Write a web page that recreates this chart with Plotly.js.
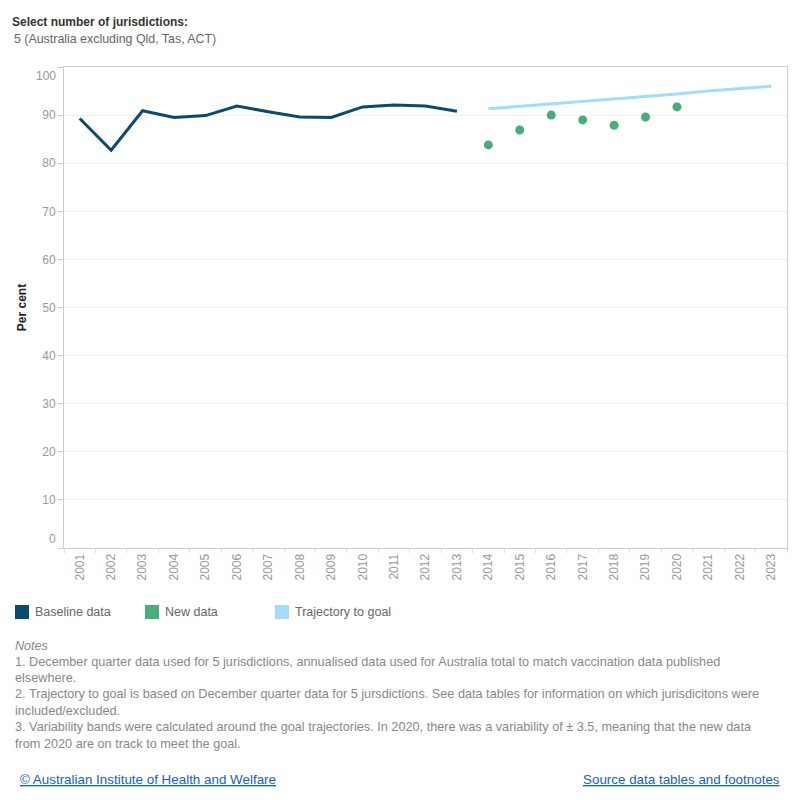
<!DOCTYPE html>
<html>
<head>
<meta charset="utf-8">
<script src="https://cdn.plot.ly/plotly-3.0.1.min.js"></script>
<style>
  html, body { margin: 0; padding: 0; background: #fff; }
  #chart { width: 800px; height: 800px; }
</style>
</head>
<body>
<div id="chart"></div>
<script>
// Immunisation coverage, per cent, 5 jurisdictions
const years = ['2001','2002','2003','2004','2005','2006','2007','2008','2009','2010','2011','2012',
               '2013','2014','2015','2016','2017','2018','2019','2020','2021','2022','2023'];

const baselineYears = ['2001','2002','2003','2004','2005','2006','2007','2008','2009','2010','2011','2012','2013'];
const baselineValues = [89.3, 82.7, 90.9, 89.5, 89.9, 91.9, 90.7, 89.6, 89.5, 91.7, 92.1, 91.9, 90.8];

const newYears = ['2014','2015','2016','2017','2018','2019','2020'];
const newValues = [83.8, 86.9, 90.0, 89.0, 87.9, 89.6, 91.7];

const trajectoryYears = ['2014','2015','2016','2017','2018','2019','2020','2021','2022','2023'];
const trajectoryValues = [91.3, 91.8, 92.4, 92.9, 93.4, 93.9, 94.4, 95.0, 95.5, 96.0];

const yTicks = [0, 10, 20, 30, 40, 50, 60, 70, 80, 90, 100];

const seriesNames = ['Baseline data', 'New data', 'Trajectory to goal'];
const seriesColors = ['#0b4a6c', '#4aab7b', '#a2dcf8'];

const headerTitle = 'Select number of jurisdictions:';
const headerValue = '5 (Australia excluding Qld, Tas, ACT)';
const notesTitle = 'Notes';
const notesLines = [
  '1. December quarter data used for 5 jurisdictions, annualised data used for Australia total to match vaccination data published',
  'elsewhere.',
  '2. Trajectory to goal is based on December quarter data for 5 jursdictions. See data tables for information on which jurisdicitons were',
  'included/excluded.',
  '3. Variability bands were calculated around the goal trajectories. In 2020, there was a variability of \u00b1 3.5, meaning that the new data',
  'from 2020 are on track to meet the goal.'
];
const footerLeft = '\u00a9 Australian Institute of Health and Welfare';
const footerRight = 'Source data tables and footnotes';

// Plot area geometry in page pixels
const W = 800, H = 800;
const M = { l: 64, r: 13, t: 67, b: 252 };
const PW = W - M.l - M.r, PH = H - M.t - M.b;
const px = x => (x - M.l) / PW;
const py = y => (H - M.b - y) / PH;

const FONT = '"Liberation Sans", Arial, sans-serif';

const traces = [
  {
    x: baselineYears, y: baselineValues, type: 'scatter', mode: 'lines',
    name: seriesNames[0], line: { color: seriesColors[0], width: 3 },
    hoverinfo: 'x+y'
  },
  {
    x: trajectoryYears, y: trajectoryValues, type: 'scatter', mode: 'lines',
    name: seriesNames[2], line: { color: seriesColors[2], width: 3 },
    hoverinfo: 'x+y'
  },
  {
    x: newYears, y: newValues, type: 'scatter', mode: 'markers',
    name: seriesNames[1], marker: { color: seriesColors[1], size: 9 },
    hoverinfo: 'x+y'
  }
];

const annotations = [];
const shapes = [];

function label(text, x, y, font, anchor) {
  annotations.push({
    text: text, xref: 'paper', yref: 'paper', x: px(x), y: py(y),
    xanchor: anchor || 'left', yanchor: 'middle', showarrow: false,
    align: 'left', font: Object.assign({ family: FONT, size: 12, color: '#777' }, font)
  });
}

// Header
label('<b>' + headerTitle + '</b>', 10, 22, { color: '#333' });
label(headerValue, 12, 39, { color: '#666', size: 12.4 });

// End labels of the value axis sit inside the plot edge
label('100', 58, 76, { color: '#999' }, 'right');
label('0', 58, 539, { color: '#999' }, 'right');

// Legend
const legendX = [15, 145, 275];
seriesNames.forEach((name, i) => {
  shapes.push({
    type: 'rect', xref: 'paper', yref: 'paper',
    x0: px(legendX[i]), x1: px(legendX[i] + 14), y0: py(605), y1: py(619),
    fillcolor: seriesColors[i], line: { width: 0 }
  });
  label(name, legendX[i] + 18, 612, { color: '#666', size: 12.5 });
});

// Notes
label('<i>' + notesTitle + '</i>', 13, 646, { color: '#888', size: 12.6 });
const noteY = [662, 678, 694, 711, 727, 744];
notesLines.forEach((line, i) => label(line, 13, noteY[i], { color: '#888', size: 12.7 }));

// Footer links
label(footerLeft, 18, 779, { color: '#1a5fb8', size: 13.4, lineposition: 'under' });
label(footerRight, 782, 779, { color: '#1a5fb8', size: 13.4, lineposition: 'under' }, 'right');

const layout = {
  width: W, height: H,
  margin: M,
  paper_bgcolor: '#fff', plot_bgcolor: '#fff',
  showlegend: false,
  font: { family: FONT, size: 12, color: '#999' },
  xaxis: {
    type: 'category', categoryorder: 'array', categoryarray: years,
    tickvals: years, ticktext: years,
    range: [-0.5, years.length - 0.5],
    tickangle: -90, tickson: 'boundaries',
    ticks: 'outside', ticklen: 4, tickcolor: '#ddd',
    showgrid: false, showline: true, linecolor: '#ccc', linewidth: 1, mirror: true,
    tickfont: { family: FONT, size: 12, color: '#999' },
    automargin: false, fixedrange: true
  },
  yaxis: {
    range: [0, 100], tickvals: yTicks,
    ticktext: yTicks.map(v => (v === 0 || v === 100) ? '' : String(v)),
    ticks: 'outside', ticklen: 5, tickcolor: '#ccc',
    showgrid: true, gridcolor: '#efefef', zeroline: false,
    showline: true, linecolor: '#ccc', linewidth: 1, mirror: true,
    tickfont: { family: FONT, size: 12, color: '#999' },
    title: { text: '<b>Per cent</b>', standoff: 13, font: { family: FONT, size: 12, color: '#222' } },
    automargin: false, fixedrange: true
  },
  annotations: annotations,
  shapes: shapes
};

Plotly.newPlot('chart', traces, layout, { displayModeBar: false, staticPlot: true });
</script>
</body>
</html>
